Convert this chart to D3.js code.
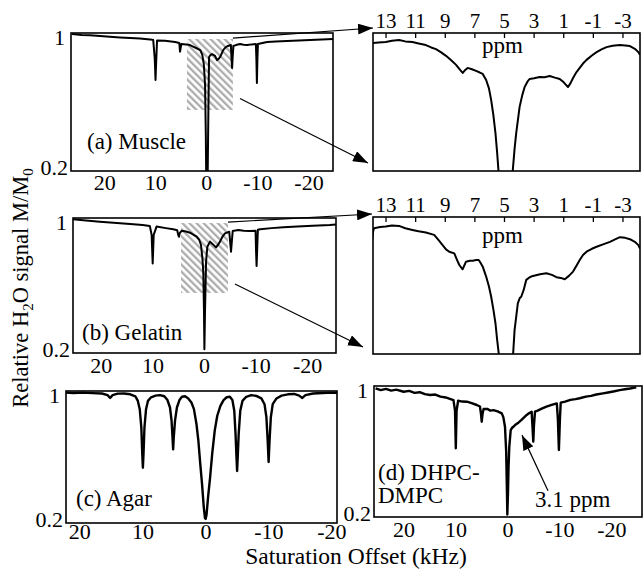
<!DOCTYPE html>
<html><head><meta charset="utf-8">
<script src="https://cdn.jsdelivr.net/npm/d3@7"></script>
<style>
body{margin:0;background:#fff}
svg{display:block}
</style>
</head><body>
<svg id="c" width="643" height="572"></svg>
<script>
// ---------------- DATA ----------------
const khzTicks = [20, 10, 0, -10, -20];
const ppmTicks = [13, 11, 9, 7, 5, 3, 1, -1, -3];
const signalTicks = [1, 0.2];

// (a) Muscle : offset (kHz) / M/M0
const muscleOffset = [26.4,24.5,22.9,20.9,19,17,15,13.1,11.1,10.5,10.2,10.05,9.9,9.75,8.2,6.2,5.4,5.25,5.0,4.1,3.3,2.6,2.1,1.3,0.9,0.6,0.35,0.2,0.12,-0.15,-0.3,-0.43,-0.7,-1.02,-1.6,-2.0,-2.3,-2.6,-3.2,-3.7,-4.15,-4.7,-4.85,-4.95,-5.05,-5.2,-5.7,-6.5,-7.2,-7.9,-8.8,-9.6,-9.7,-9.8,-9.9,-10.0,-11.8,-13.5,-15.7,-18,-20.2,-22.5,-24.7];
const muscleSignal = [0.994,0.989,0.987,0.983,0.978,0.974,0.971,0.968,0.963,0.959,0.85,0.728,0.85,0.957,0.955,0.948,0.942,0.892,0.936,0.934,0.930,0.920,0.913,0.901,0.875,0.82,0.70,0.40,0.15,0.15,0.55,0.861,0.872,0.878,0.867,0.843,0.850,0.861,0.901,0.918,0.925,0.930,0.84,0.797,0.86,0.925,0.930,0.936,0.932,0.930,0.934,0.936,0.85,0.710,0.85,0.936,0.948,0.951,0.954,0.956,0.959,0.962,0.965];

// (b) Gelatin
const gelatinOffset = [25.5,23.5,20.3,17,13.8,12,10.6,10.25,10.05,9.85,9.3,7.5,6.05,5.3,5.1,4.95,4.8,4.4,3.6,2.8,2.1,1.5,1.0,0.68,0.4,0.23,0.1,0.02,-0.1,-0.3,-0.55,-1.07,-1.6,-2.23,-2.6,-3.0,-3.5,-3.97,-4.8,-5.0,-5.14,-5.3,-5.47,-6.55,-7.6,-8.8,-9.9,-10.0,-10.1,-10.2,-10.35,-10.8,-13,-15.3,-18,-21,-24.3,-25.5];
const gelatinSignal = [0.992,0.986,0.978,0.970,0.963,0.958,0.953,0.90,0.73,0.90,0.949,0.940,0.933,0.928,0.90,0.889,0.91,0.925,0.92,0.913,0.900,0.889,0.87,0.840,0.76,0.674,0.45,0.222,0.45,0.74,0.830,0.860,0.845,0.826,0.84,0.860,0.89,0.909,0.919,0.85,0.800,0.86,0.923,0.929,0.925,0.923,0.925,0.80,0.716,0.80,0.930,0.933,0.940,0.945,0.950,0.954,0.959,0.962];

// (c) Agar
const agarOffset = [22.2,21,19.5,18,16.5,15.6,15.2,14.8,14,13,12,11.2,10.8,10.5,10.25,10.1,10.0,9.9,9.75,9.5,9.2,8.7,8,7.3,6.6,6.1,5.7,5.45,5.3,5.2,5.1,4.9,4.6,4.2,3.8,3.3,2.8,2.3,1.9,1.5,1.2,0.9,0.6,0.35,0.15,0.05,-0.1,-0.35,-0.65,-1.0,-1.4,-1.8,-2.3,-2.8,-3.3,-3.8,-4.2,-4.5,-4.7,-4.85,-4.95,-5.05,-5.2,-5.45,-5.8,-6.4,-7.2,-8,-8.8,-9.3,-9.6,-9.8,-9.95,-10.1,-10.3,-10.6,-11.2,-12,-13,-14,-14.8,-15.3,-15.8,-17,-18.5,-20,-20.8];
const agarSignal = [0.990,0.988,0.990,0.987,0.985,0.975,0.958,0.975,0.984,0.985,0.980,0.968,0.94,0.89,0.78,0.62,0.535,0.62,0.78,0.89,0.94,0.962,0.972,0.975,0.968,0.945,0.90,0.82,0.72,0.646,0.72,0.82,0.90,0.945,0.965,0.968,0.955,0.93,0.89,0.80,0.70,0.56,0.43,0.30,0.23,0.225,0.25,0.36,0.47,0.62,0.76,0.85,0.91,0.945,0.962,0.965,0.945,0.88,0.74,0.60,0.515,0.60,0.74,0.88,0.94,0.965,0.975,0.970,0.955,0.92,0.84,0.70,0.57,0.70,0.84,0.92,0.955,0.972,0.98,0.982,0.972,0.958,0.975,0.985,0.988,0.990,0.989];

// (d) DHPC-DMPC
const bicelleOffset = [25.5,24.5,23.5,22.5,21.5,20.1,19,18,17,16,15,14,13,12,11.2,10.5,10.2,10.05,9.9,9.6,8.8,7.9,7,6.0,5.4,5.2,5.06,4.9,4.7,4.0,3.4,2.8,2.0,1.2,0.9,0.58,0.35,0.2,0.13,0.0,-0.1,-0.25,-0.52,-0.8,-1.02,-1.5,-2.0,-2.5,-3.0,-3.6,-4.1,-4.55,-4.7,-4.87,-5.0,-5.2,-5.7,-6.5,-7.4,-8.4,-9.4,-9.6,-9.8,-10.0,-10.15,-11,-12,-13,-13.8,-15,-16,-17,-18.3,-19.5,-20.5,-21.5,-22.5,-23.5,-24.7];
const bicelleSignal = [0.985,0.975,0.982,0.972,0.978,0.965,0.970,0.958,0.962,0.950,0.945,0.948,0.935,0.930,0.922,0.914,0.85,0.62,0.85,0.910,0.905,0.904,0.895,0.884,0.875,0.83,0.782,0.83,0.860,0.860,0.850,0.853,0.845,0.833,0.81,0.751,0.6,0.35,0.215,0.35,0.50,0.63,0.731,0.745,0.751,0.765,0.776,0.790,0.805,0.823,0.835,0.843,0.76,0.66,0.76,0.843,0.850,0.862,0.874,0.885,0.894,0.80,0.609,0.80,0.898,0.905,0.915,0.920,0.925,0.935,0.940,0.948,0.955,0.962,0.968,0.975,0.980,0.985,0.992];

// zoomed muscle (ppm)
const muscleZoomPpm = [13.88,13.5,13.02,12.6,12.12,11.7,11.22,10.8,10.31,9.95,9.63,9.3,8.95,8.6,8.27,8.0,7.82,7.65,7.49,7.2,6.92,6.7,6.47,6.24,6.05,5.90,5.75,5.61,5.5,5.41,5.35,4.47,4.44,4.32,4.21,3.98,3.8,3.64,3.45,3.31,3.0,2.63,2.3,1.95,1.6,1.27,1.0,0.71,0.55,0.37,0.15,-0.08,-0.3,-0.54,-0.9,-1.22,-1.55,-1.89,-2.3,-2.80,-3.15,-3.47,-3.8,-4.04,-4.15];
const muscleZoomSignal = [0.935,0.937,0.938,0.942,0.944,0.940,0.938,0.934,0.929,0.922,0.917,0.908,0.897,0.884,0.870,0.855,0.846,0.855,0.861,0.857,0.852,0.848,0.843,0.825,0.80,0.765,0.72,0.667,0.61,0.557,0.50,0.50,0.557,0.62,0.667,0.745,0.78,0.804,0.820,0.828,0.830,0.834,0.833,0.837,0.832,0.828,0.818,0.804,0.815,0.831,0.848,0.861,0.874,0.885,0.898,0.908,0.916,0.923,0.927,0.929,0.928,0.926,0.918,0.908,0.900];

// zoomed gelatin (ppm)
const gelatinZoomPpm = [13.93,13.88,13.81,13.4,13.02,12.6,12.12,11.7,11.22,10.8,10.31,9.75,9.45,9.18,8.95,8.73,8.39,8.2,8.05,7.83,7.70,7.60,7.35,7.15,6.9,6.74,6.6,6.47,6.24,6.05,5.90,5.75,5.61,5.5,5.39,5.35,4.45,4.44,4.32,4.10,3.97,3.87,3.71,3.53,3.3,3.08,2.6,2.17,1.8,1.49,1.2,0.93,0.65,0.37,0.15,-0.08,-0.3,-0.54,-0.9,-1.22,-1.7,-2.12,-2.5,-2.80,-3.15,-3.47,-3.8,-4.04,-4.15];
const gelatinZoomSignal = [0.900,0.925,0.936,0.940,0.941,0.944,0.943,0.936,0.931,0.927,0.923,0.916,0.900,0.885,0.872,0.865,0.860,0.840,0.825,0.812,0.825,0.835,0.838,0.838,0.840,0.840,0.830,0.820,0.790,0.76,0.729,0.69,0.649,0.60,0.558,0.50,0.50,0.54,0.628,0.709,0.725,0.729,0.749,0.780,0.788,0.792,0.797,0.800,0.795,0.788,0.786,0.782,0.792,0.805,0.822,0.840,0.855,0.865,0.874,0.880,0.888,0.895,0.903,0.909,0.907,0.903,0.895,0.885,0.875];

// ---------------- DRAW ----------------
const svg = d3.select("#c");
const FS = 22;      // tick labels
const LFS = 23;     // text labels
const FONT = "'Liberation Serif'";

const defs = svg.append("defs");
defs.append("pattern").attr("id","hatch").attr("patternUnits","userSpaceOnUse")
  .attr("width",5).attr("height",5).attr("patternTransform","rotate(-45)")
  .append("line").attr("x1",1.2).attr("y1",0).attr("x2",1.2).attr("y2",5)
  .attr("stroke","#a8a8a8").attr("stroke-width",2.2);
defs.append("marker").attr("id","arr").attr("markerUnits","userSpaceOnUse")
  .attr("markerWidth",16).attr("markerHeight",11).attr("refX",15).attr("refY",5.5)
  .attr("orient","auto")
  .append("path").attr("d","M0,0 L15,5.5 L0,11 Z").attr("fill","#000");

function txt(sel){ return sel.style("font-family", FONT).attr("fill","#000"); }

function panel(id, box, dom, offs, sig, opt) {
  const x = d3.scaleLinear().domain(dom).range([box.x0, box.x1]);
  const y = d3.scaleLinear().domain(opt.ydom || [0.2, 1]).range([box.y1, box.y0]);
  const g = svg.append("g");
  defs.append("clipPath").attr("id","clip"+id).append("rect")
    .attr("x",box.x0).attr("y",box.y0).attr("width",box.x1-box.x0).attr("height",box.y1-box.y0);
  if (opt.hatch) {
    const h = opt.hatch;
    g.append("rect").attr("x",x(h.k0)).attr("y",y(h.v1))
      .attr("width",x(h.k1)-x(h.k0)).attr("height",y(h.v0)-y(h.v1))
      .attr("fill","url(#hatch)");
  }
  const data = offs.map((k,i)=>[k, sig[i]]);
  g.append("path").datum(data).attr("clip-path","url(#clip"+id+")")
    .attr("fill","none").attr("stroke","#000").attr("stroke-width",opt.sw||2)
    .attr("stroke-linejoin","round")
    .attr("d", d3.line().x(d=>x(d[0])).y(d=>y(d[1])));
  g.append("rect").attr("x",box.x0).attr("y",box.y0)
    .attr("width",box.x1-box.x0).attr("height",box.y1-box.y0)
    .attr("fill","none").attr("stroke","#000").attr("stroke-width",1.6);
  if (opt.khz) {
    txt(g.selectAll(".xl").data(khzTicks).enter().append("text")
      .attr("x",d=>x(d)).attr("y",box.y1+opt.labDy).attr("text-anchor","middle")
      .attr("font-size",FS).text(d=>String(d)));
    txt(g.selectAll(".yl").data(signalTicks).enter().append("text")
      .attr("x",d=>box.x0-(d===1?6:3)).attr("y",d=>y(d)+(d===1?12:4))
      .attr("text-anchor","end").attr("font-size",FS).text(d=>String(d)));
  }
  if (opt.ppm) {
    g.selectAll(".tk").data(ppmTicks).enter().append("line")
      .attr("x1",d=>x(d)).attr("x2",d=>x(d)).attr("y1",box.y0).attr("y2",box.y0+5)
      .attr("stroke","#000").attr("stroke-width",1.3);
    txt(g.selectAll(".pl").data(ppmTicks).enter().append("text")
      .attr("x",d=>x(d)).attr("y",box.y0-5).attr("text-anchor","middle")
      .attr("font-size",21).text(d=>String(d)));
    txt(g.append("text").attr("x",x(5)-2).attr("y",box.y0+opt.ppmDy).attr("text-anchor","middle")
      .attr("font-size",LFS).text("ppm"));
  }
  return {x, y, box};
}

const A = panel("a",{x0:71,x1:333,y0:33,y1:171},[26.6,-24.7],muscleOffset,muscleSignal,
  {khz:true,labDy:19,hatch:{k0:3.9,k1:-5.1,v0:0.554,v1:0.965}});
const B = panel("b",{x0:73,x1:336,y0:218,y1:353},[25.5,-25.5],gelatinOffset,gelatinSignal,
  {khz:true,labDy:20,hatch:{k0:4.55,k1:-4.55,v0:0.556,v1:0.970}});
const C = panel("c",{x0:66,x1:337,y0:391,y1:523},[22.2,-20.8],agarOffset,agarSignal,
  {khz:true,labDy:16,sw:2.4});
const D = panel("d",{x0:374,x1:642,y0:386,y1:517},[25.8,-25.8],bicelleOffset,bicelleSignal,
  {khz:true,labDy:20,sw:2.4});
const ZA = panel("za",{x0:373,x1:640,y0:33,y1:171},[13.88,-4.15],muscleZoomPpm,muscleZoomSignal,
  {ppm:true,ppmDy:20,ydom:[0.554,0.965]});
const ZB = panel("zb",{x0:373,x1:640,y0:217,y1:354},[13.88,-4.15],gelatinZoomPpm,gelatinZoomSignal,
  {ppm:true,ppmDy:26,ydom:[0.556,0.970]});

function arrow(x1,y1,x2,y2){
  svg.append("line").attr("x1",x1).attr("y1",y1).attr("x2",x2).attr("y2",y2)
    .attr("stroke","#000").attr("stroke-width",1.2).attr("marker-end","url(#arr)");
}
// zoom connectors
arrow(A.x(-5.1), A.y(0.965)-1, ZA.box.x0, ZA.box.y0-5);
arrow(A.x(-6.5), A.y(0.62), ZA.box.x0-5, ZA.box.y1-8);
arrow(B.x(-4.55), B.y(0.970)-1, ZB.box.x0-1, ZB.box.y0-3);
arrow(B.x(-5.9), B.y(0.609), ZB.box.x0-10, ZB.box.y1-7);
// 3.1 ppm annotation
arrow(D.x(-7.7), D.y(0.36), D.x(-2.7), D.y(0.70));

// panel labels
function label(x,y,s,fs){ return txt(svg.append("text").attr("x",x).attr("y",y).attr("font-size",fs||LFS).text(s)); }
label(87,149,"(a) Muscle");
label(82,340,"(b) Gelatin");
label(76,506,"(c) Agar");
label(378,480,"(d) DHPC-");
label(378,503,"DMPC");
label(535,507,"3.1 ppm");

// axis titles
label(356,564,"Saturation Offset (kHz)",23.5).attr("text-anchor","middle");
const yl = txt(svg.append("text").attr("transform","translate(28,288) rotate(-90)")
  .attr("text-anchor","middle").attr("font-size",22.5));
yl.append("tspan").text("Relative H");
yl.append("tspan").attr("dy",5).attr("font-size",15).text("2");
yl.append("tspan").attr("dy",-5).text("O signal M/M");
yl.append("tspan").attr("dy",5).attr("font-size",15).text("0");
</script>
</body></html>
